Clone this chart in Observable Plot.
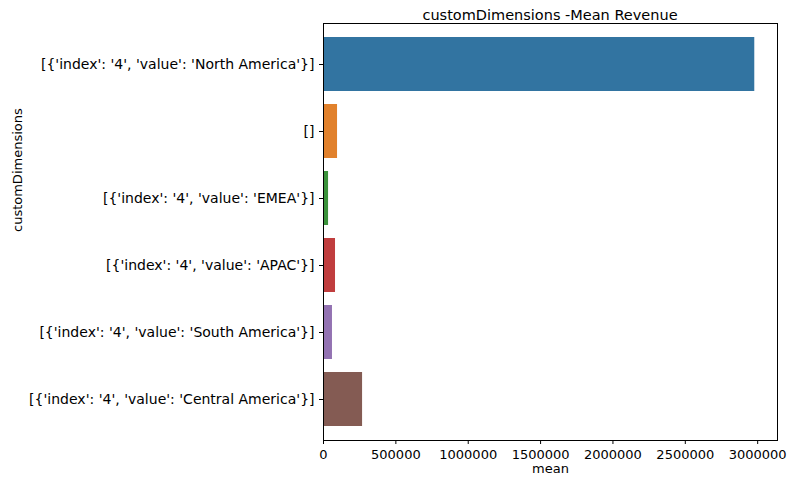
<!DOCTYPE html>
<html>
<head>
<meta charset="utf-8">
<script src="https://cdn.jsdelivr.net/npm/d3@7"></script>
<script src="https://cdn.jsdelivr.net/npm/@observablehq/plot@0.6"></script>
<style>
  body { margin: 0; background: #fff; font-family: "DejaVu Sans", sans-serif; }
  #title { height: 22px; width: 797px; position: relative; }
  #title span { position: absolute; left: 550px; top: 7px; transform: translateX(-50%); font-size: 14.5px; white-space: nowrap; }
</style>
</head>
<body>
<div id="title"><span>customDimensions -Mean Revenue</span></div>
<div id="chart"></div>
<script>
const categories = [
  "[{'index': '4', 'value': 'North America'}]",
  "[]",
  "[{'index': '4', 'value': 'EMEA'}]",
  "[{'index': '4', 'value': 'APAC'}]",
  "[{'index': '4', 'value': 'South America'}]",
  "[{'index': '4', 'value': 'Central America'}]"
];
const means = [2980000, 97000, 35000, 83000, 62000, 270000];
const colors = ["#3274a1", "#e1812c", "#3a923a", "#c03d3e", "#9372b2", "#845b53"];
const xTicks = [0, 500000, 1000000, 1500000, 2000000, 2500000, 3000000];

const data = categories.map((c, i) => ({cat: c, mean: means[i], color: colors[i]}));

const chart = Plot.plot({
  width: 797,
  height: 468,
  marginLeft: 323,
  marginRight: 20,
  marginTop: 1,
  marginBottom: 50,
  style: {fontFamily: "DejaVu Sans, sans-serif", fontSize: "12px", color: "#000"},
  x: {domain: [0, 3137000], label: null},
  y: {domain: categories, padding: 0.2, label: null},
  marks: [
    Plot.barX(data, {y: "cat", x: "mean", fill: "color"}),
    Plot.frame({stroke: "#000", strokeWidth: 1}),
    Plot.axisX({ticks: xTicks, tickFormat: d => String(d), label: null, tickSize: 4, fontSize: 13}),
    Plot.axisY({label: null, tickSize: 4, fontSize: 14}),
    Plot.text(["mean"], {frameAnchor: "bottom", dy: 32, fontSize: 13}),
    Plot.text(["customDimensions"], {frameAnchor: "left", dx: -306, rotate: -90, fontSize: 13})
  ]
});
document.getElementById("chart").appendChild(chart);
</script>
</body>
</html>
